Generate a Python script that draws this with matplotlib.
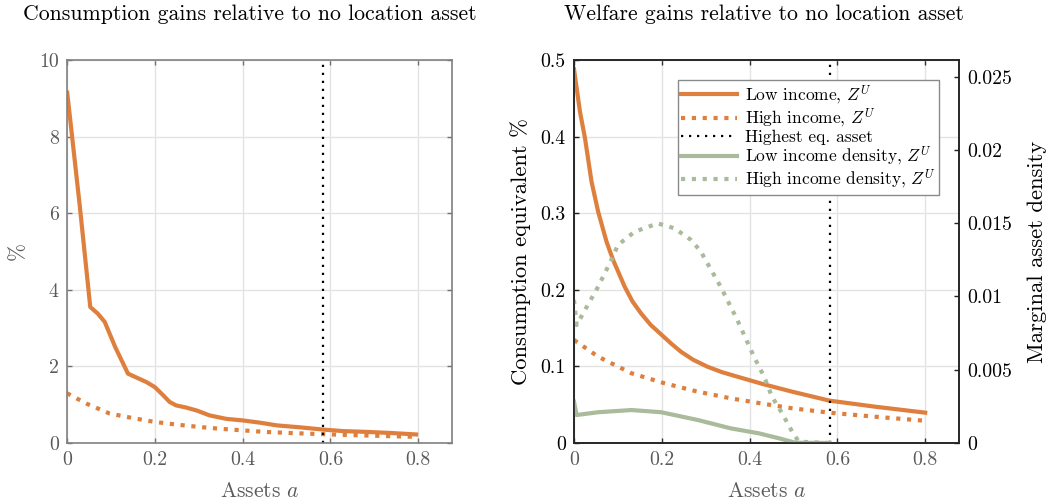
import matplotlib
matplotlib.use("Agg")
import matplotlib.pyplot as plt
from matplotlib.ticker import FuncFormatter
from matplotlib.lines import Line2D

plt.rcParams['font.family'] = 'cmr10'
plt.rcParams['mathtext.fontset'] = 'cm'
plt.rcParams['axes.formatter.use_mathtext'] = True

# ---------------- data ----------------
# Left panel: consumption gains (%)
a_cons_low = [0, 0.029, 0.053, 0.070, 0.086, 0.11, 0.139, 0.16, 0.181, 0.2, 0.217, 0.234,
              0.249, 0.27, 0.295, 0.325, 0.363, 0.40, 0.44, 0.478, 0.53, 0.584, 0.63,
              0.683, 0.74, 0.8]
cons_low = [9.2, 6.2, 3.55, 3.38, 3.16, 2.5, 1.81, 1.70, 1.59, 1.46, 1.27, 1.07, 0.98,
            0.93, 0.85, 0.72, 0.63, 0.59, 0.53, 0.46, 0.41, 0.35, 0.31, 0.29, 0.26, 0.22]
a_cons_high = [0, 0.044, 0.097, 0.15, 0.2, 0.25, 0.30, 0.35, 0.4, 0.45, 0.51, 0.61, 0.7, 0.8]
cons_high = [1.30, 1.03, 0.77, 0.65, 0.55, 0.48, 0.42, 0.37, 0.33, 0.29, 0.26, 0.22, 0.19, 0.16]

# Right panel: welfare gains (consumption equivalent %)
a_welf_low = [0, 0.0136, 0.025, 0.04, 0.055, 0.074, 0.089, 0.1155, 0.133, 0.153, 0.175,
              0.2, 0.222, 0.244, 0.272, 0.304, 0.337, 0.372, 0.43, 0.497, 0.582, 0.686, 0.8]
welf_low = [0.488, 0.4325, 0.398, 0.341, 0.302, 0.263, 0.239, 0.204, 0.185, 0.169, 0.154,
            0.141, 0.1295, 0.119, 0.1085, 0.0996, 0.0925, 0.0866, 0.077, 0.067, 0.0553,
            0.0474, 0.0396]
a_welf_high = [0, 0.055, 0.131, 0.206, 0.282, 0.357, 0.425, 0.497, 0.582, 0.686, 0.8]
welf_high = [0.1345, 0.1127, 0.091, 0.078, 0.067, 0.0583, 0.0518, 0.0453, 0.0396, 0.0343, 0.029]

# Marginal asset densities
a_dens_low = [0, 0.006, 0.055, 0.131, 0.1986, 0.282, 0.357, 0.421, 0.467, 0.504, 0.582]
dens_low = [0.00282, 0.00191, 0.0021, 0.00225, 0.0021, 0.00157, 0.001, 0.00066, 0.00032,
            0.00002, 0.0]
a_dens_high = [0, 0.006, 0.025, 0.055, 0.085, 0.1, 0.138, 0.191, 0.229, 0.267, 0.289, 0.334,
               0.372, 0.41, 0.433, 0.451, 0.474, 0.497, 0.512, 0.582]
dens_high = [0.00976, 0.00805, 0.00908, 0.01067, 0.01249, 0.01351, 0.01442, 0.01499, 0.01465,
             0.01385, 0.01306, 0.01067, 0.0084, 0.00589, 0.00453, 0.00316, 0.00203, 0.00077,
             0.00009, 0.0]

a_max_eq = 0.583

cons_ticks = [0, 2, 4, 6, 8, 10]
welf_ticks = [0, 0.1, 0.2, 0.3, 0.4, 0.5]
dens_ticks = [0, 0.005, 0.01, 0.015, 0.02, 0.025]
x_ticks = [0, 0.2, 0.4, 0.6, 0.8]

legend_labels = ['Low income, $Z^U$', 'High income, $Z^U$', 'Highest eq. asset',
                 'Low income density, $Z^U$', 'High income density, $Z^U$']

# ---------------- style ----------------
ORANGE = '#DF7F3D'
GREEN = '#A9BB9B'
GRAYTXT = '#5a5a5a'
LW = 3.0
DOT = (0, (1, 1.6))
VDOT = (0, (1, 2.6))
VLW = 1.6
TICK_FS = 14.3
LAB_FS = 15.5

fmt = FuncFormatter(lambda v, p: f'{v:g}')

fig = plt.figure(figsize=(10.49, 5.01), dpi=100)
W, H = 1049, 501
axL = fig.add_axes([67 / W, 1 - 443 / H, (452 - 67) / W, (443 - 60) / H])
axR = fig.add_axes([574 / W, 1 - 443 / H, (959 - 574) / W, (443 - 60) / H])

# ---- left panel ----
axL.plot(a_cons_low, cons_low, color=ORANGE, lw=LW, solid_capstyle='butt')
axL.plot(a_cons_high, cons_high, color=ORANGE, lw=LW, ls=DOT)
axL.axvline(a_max_eq, color='black', lw=VLW, ls=VDOT)
axL.set_xlim(0, 0.877)
axL.set_ylim(0, 10)
axL.set_xticks(x_ticks)
axL.set_yticks(cons_ticks)
axL.xaxis.set_major_formatter(fmt)
axL.yaxis.set_major_formatter(fmt)
axL.grid(True, color='#e3e3e3', lw=1.0)
axL.set_axisbelow(True)
axL.tick_params(direction='in', length=3.5, width=1, colors='#707070', labelcolor=GRAYTXT,
                labelsize=TICK_FS, top=True, right=True, pad=6)
for s in axL.spines.values():
    s.set_color('#808080')
    s.set_linewidth(1.2)
axL.set_ylabel('%', fontsize=LAB_FS, color=GRAYTXT, labelpad=8)
axL.set_xlabel('Assets $a$', fontsize=LAB_FS, color=GRAYTXT, labelpad=9)

# ---- right panel ----
axR.plot(a_welf_low, welf_low, color=ORANGE, lw=LW)
axR.plot(a_welf_high, welf_high, color=ORANGE, lw=LW, ls=DOT)
axR.axvline(a_max_eq, color='black', lw=VLW, ls=VDOT)
axR.set_xlim(0, 0.877)
axR.set_ylim(0, 0.5)
axR.set_xticks(x_ticks)
axR.set_yticks(welf_ticks)
axR.xaxis.set_major_formatter(fmt)
axR.yaxis.set_major_formatter(fmt)
axR.grid(True, color='#e3e3e3', lw=1.0)
axR.set_axisbelow(True)
axR.tick_params(axis='x', direction='in', length=3.5, width=1, colors='#303030',
                labelcolor=GRAYTXT, labelsize=TICK_FS, top=True, pad=6)
axR.tick_params(axis='y', direction='in', length=3.5, width=1, colors='#202020',
                labelcolor='black', labelsize=TICK_FS, pad=6)
for s in axR.spines.values():
    s.set_color('#262626')
    s.set_linewidth(1.2)
axR.set_ylabel('Consumption equivalent %', fontsize=16.3, color='black', labelpad=7)
axR.set_xlabel('Assets $a$', fontsize=LAB_FS, color=GRAYTXT, labelpad=9)

axD = axR.twinx()
axD.plot(a_dens_low, dens_low, color=GREEN, lw=LW)
axD.plot(a_dens_high, dens_high, color=GREEN, lw=LW, ls=DOT)
axD.set_ylim(0, 0.02614)
axD.set_yticks(dens_ticks)
axD.yaxis.set_major_formatter(fmt)
axD.tick_params(axis='y', direction='in', length=3.5, width=1, colors='#202020',
                labelcolor='black', labelsize=TICK_FS, pad=6)
for s in axD.spines.values():
    s.set_color('#262626')
    s.set_linewidth(1.2)
axD.set_ylabel('Marginal asset density', fontsize=16.3, color='black', labelpad=11)

handles = [Line2D([], [], color=ORANGE, lw=LW),
           Line2D([], [], color=ORANGE, lw=LW, ls=DOT),
           Line2D([], [], color='black', lw=VLW, ls=VDOT),
           Line2D([], [], color=GREEN, lw=LW),
           Line2D([], [], color=GREEN, lw=LW, ls=DOT)]
leg = axD.legend(handles, legend_labels, loc='upper right', bbox_to_anchor=(939 / W, 1 - 80 / H),
                 bbox_transform=fig.transFigure, fontsize=12.5, fancybox=False,
                 framealpha=1, edgecolor='#8a8a8a', borderpad=0.2, labelspacing=0.0,
                 handlelength=3.2, handletextpad=0.45, borderaxespad=0)
leg.get_frame().set_linewidth(1.0)

fig.text(249.5 / W, 1 - 20 / H, 'Consumption gains relative to no location asset',
         ha='center', va='baseline', fontsize=15.7)
fig.text(763.5 / W, 1 - 20 / H, 'Welfare gains relative to no location asset',
         ha='center', va='baseline', fontsize=15.7)

fig.savefig('out.png', dpi=100)
